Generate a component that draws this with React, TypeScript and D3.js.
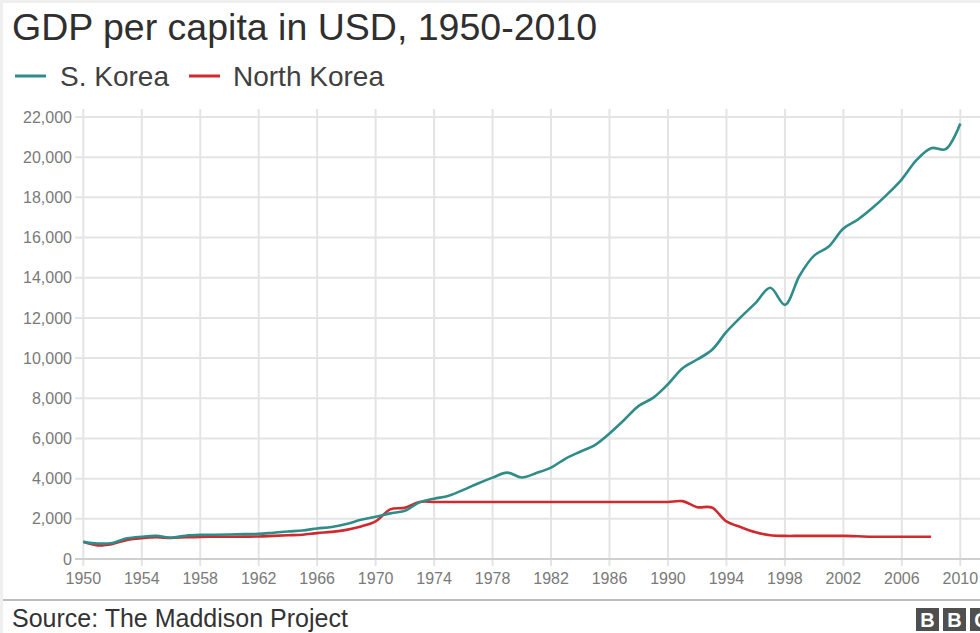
import React from "react";
import * as d3 from "d3";

const skYears = [
  1950, 1951, 1952, 1953, 1954, 1955, 1956, 1957, 1958, 1959,
  1960, 1961, 1962, 1963, 1964, 1965, 1966, 1967, 1968, 1969,
  1970, 1971, 1972, 1973, 1974, 1975, 1976, 1977, 1978, 1979,
  1980, 1981, 1982, 1983, 1984, 1985, 1986, 1987, 1988, 1989,
  1990, 1991, 1992, 1993, 1994, 1995, 1996, 1997, 1998, 1999,
  2000, 2001, 2002, 2003, 2004, 2005, 2006, 2007, 2008, 2009, 2010,
];
const southKorea = [
  854, 770, 800, 1030, 1110, 1150, 1060, 1160, 1200, 1210,
  1220, 1240, 1250, 1310, 1370, 1420, 1520, 1590, 1740, 1950,
  2100, 2270, 2400, 2820, 3000, 3150, 3440, 3760, 4050, 4300,
  4060, 4280, 4550, 5000, 5340, 5670, 6250, 6920, 7620, 8030,
  8700, 9500, 9930, 10400, 11300, 12050, 12750, 13500, 12650, 14100,
  15100, 15550, 16450, 16900, 17480, 18150, 18900, 19850, 20450, 20400, 21680,
];
const nkYears = [
  1950, 1951, 1952, 1953, 1954, 1955, 1956, 1957, 1958, 1959,
  1960, 1961, 1962, 1963, 1964, 1965, 1966, 1967, 1968, 1969,
  1970, 1971, 1972, 1973, 1974, 1975, 1976, 1977, 1978, 1979,
  1980, 1981, 1982, 1983, 1984, 1985, 1986, 1987, 1988, 1989,
  1990, 1991, 1992, 1993, 1994, 1995, 1996, 1997, 1998, 1999,
  2000, 2001, 2002, 2003, 2004, 2005, 2006, 2007, 2008,
];
const northKorea = [
  854, 680, 750, 950, 1040, 1080, 1050, 1080, 1100, 1105,
  1110, 1115, 1120, 1150, 1180, 1210, 1290, 1350, 1450, 1620,
  1870, 2470, 2550, 2840, 2840, 2840, 2840, 2840, 2840, 2840,
  2840, 2840, 2840, 2840, 2840, 2840, 2840, 2840, 2840, 2840,
  2840, 2880, 2580, 2560, 1870, 1580, 1330, 1180, 1150, 1150,
  1150, 1150, 1150, 1130, 1110, 1110, 1110, 1110, 1110,
];
const xTicks = [1950, 1954, 1958, 1962, 1966, 1970, 1974, 1978, 1982, 1986, 1990, 1994, 1998, 2002, 2006, 2010];
const yTicks = [0, 2000, 4000, 6000, 8000, 10000, 12000, 14000, 16000, 18000, 20000, 22000];

const TEAL = "#2f8c88";
const RED = "#cf2a2e";
const FONT = "'Liberation Sans', Arial, Helvetica, sans-serif";

export default function App() {
  const W = 980;
  const H = 633;
  const x = d3.scaleLinear().domain([1950, 2010]).range([83.3, 960.3]);
  const y = d3.scaleLinear().domain([0, 22000]).range([559, 117]);
  const line = d3
    .line<[number, number]>()
    .x((d) => x(d[0]))
    .y((d) => y(d[1]))
    .curve(d3.curveCatmullRom.alpha(0.5));
  const skPath = line(skYears.map((yr, i) => [yr, southKorea[i]]) as [number, number][]) || "";
  const nkPath = line(nkYears.map((yr, i) => [yr, northKorea[i]]) as [number, number][]) || "";
  const fmt = d3.format(",");

  return (
    <div style={{ position: "absolute", left: 0, top: 0, width: W, height: H }}>
      <svg width={W} height={H} style={{ display: "block", fontFamily: FONT }}>
        <rect x={0} y={0} width={W} height={H} fill="#efefef" />
        <rect x={3} y={3} width={W - 3} height={H - 3} fill="#ffffff" />

        <text x={12} y={40} fontSize={37.5} fill="#2f2f2f">
          GDP per capita in USD, 1950-2010
        </text>

        <line x1={15} x2={46} y1={76} y2={76} stroke={TEAL} strokeWidth={3} />
        <text x={60} y={86} fontSize={28} fill="#404040">S. Korea</text>
        <line x1={189} x2={220} y1={76} y2={76} stroke={RED} strokeWidth={3} />
        <text x={233} y={86} fontSize={28} fill="#404040">North Korea</text>

        {yTicks.map((t) => (
          <g key={"y" + t}>
            <line
              x1={75}
              x2={W}
              y1={y(t)}
              y2={y(t)}
              stroke={t === 0 ? "#cfcfcf" : "#e4e4e4"}
              strokeWidth={2}
            />
            <text
              x={72}
              y={y(t)}
              dy="0.35em"
              textAnchor="end"
              fontSize={16}
              fill="#7a7a7a"
            >
              {fmt(t)}
            </text>
          </g>
        ))}
        {xTicks.map((t) => (
          <g key={"x" + t}>
            <line x1={x(t)} x2={x(t)} y1={109} y2={566} stroke="#e4e4e4" strokeWidth={2} />
            <text x={x(t)} y={578} dy="0.35em" textAnchor="middle" fontSize={16} fill="#7a7a7a">
              {t}
            </text>
          </g>
        ))}
        <line x1={75} x2={W} y1={y(0)} y2={y(0)} stroke="#cfcfcf" strokeWidth={2} />

        <path d={nkPath} fill="none" stroke={RED} strokeWidth={2.6} strokeLinejoin="round" />
        <path d={skPath} fill="none" stroke={TEAL} strokeWidth={2.6} strokeLinejoin="round" />

        <line x1={3} x2={W} y1={600} y2={600} stroke="#bdbdbd" strokeWidth={2} />
        <text x={12} y={627} fontSize={25} fill="#333333">
          Source: The Maddison Project
        </text>

        {["B", "B", "C"].map((ch, i) => (
          <g key={"bbc" + i}>
            <rect x={916 + i * 27} y={608} width={23} height={23} fill="#4f4f4f" />
            <text
              x={916 + i * 27 + 11.5}
              y={627}
              textAnchor="middle"
              fontSize={20}
              fontWeight="bold"
              fill="#ffffff"
            >
              {ch}
            </text>
          </g>
        ))}
      </svg>
    </div>
  );
}
